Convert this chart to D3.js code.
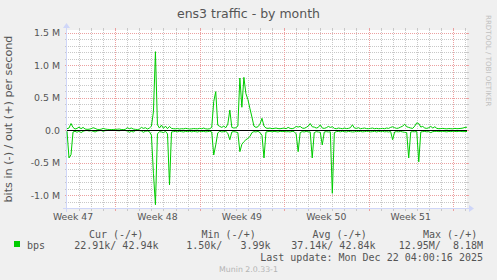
<!DOCTYPE html>
<html><head><meta charset="utf-8">
<script src="https://cdn.jsdelivr.net/npm/d3@7"></script>
<style>
body{margin:0;background:#f0f0f0}
svg{display:block}
text{white-space:pre}
</style>
</head><body>
<svg id="c" width="497" height="280"></svg>
<script>
// ---- data (kbit/s, one sample every 4 hours from Nov 19 2025 00:00) ----
const startTime = new Date(2025, 10, 19, 0, 0, 0);
const stepHours = 4;
const outK = [
 20,30,100,40,15,25,45,20,40,15, 10,12,20,35,25,10,8,12,25,15,
 10,8,6,8,10,12,15,8,6,10, 35,20,30,15,10,8,12,40,25,35,
 15,30,60,280,1205,80,30,75,25,60, 20,55,25,20,18,22,15,20,18,25,
 20,15,18,22,20,18,25,20,30,18, 15,20,40,437,590,75,55,40,60,35,
 90,307,40,30,35,60,800,350,810,560, 470,330,200,60,40,50,90,180,60,30,
 25,30,20,25,30,22,20,25,30,20, 40,25,20,30,55,45,55,30,25,40,
 60,100,50,45,30,40,80,30,25,35, 55,40,50,25,20,30,25,20,30,22,
 25,35,80,30,25,35,20,25,30,22, 20,25,30,20,25,20,22,25,20,30,
 25,40,50,35,25,30,45,60,90,50, 40,30,25,60,110,100,45,55,30,25,
 35,55,30,50,25,20,22,25,20,18, 22,20,18,25,20,22,25,30,40,43
];
const inK = [
 20,430,380,30,20,35,15,40,20,10, 8,15,10,20,30,15,10,8,20,10,
 8,6,5,6,8,10,12,6,5,8, 15,35,20,30,10,8,10,15,35,20,
 15,25,80,666,1150,60,25,30,40,20, 60,846,30,25,22,28,20,25,30,22,
 25,20,28,22,25,30,20,25,22,28, 25,20,30,385,230,45,20,30,25,20,
 50,150,30,25,30,40,333,220,180,150, 130,100,40,25,30,20,40,80,430,30,
 25,20,28,22,25,30,20,25,22,28, 25,30,22,25,60,333,40,25,30,22,
 28,30,430,40,25,30,35,230,30,25, 30,28,974,40,25,22,28,20,25,30,
 22,25,30,28,20,25,22,28,25,20, 22,28,25,20,30,22,25,20,28,25,
 30,22,150,30,25,28,22,30,35,40, 430,30,25,28,22,490,30,25,22,28,
 25,40,25,22,20,25,22,20,25,28, 22,25,20,22,25,20,22,25,24,23
];
const yMajorTicks = [-1.0e6, -0.5e6, 0, 0.5e6, 1.0e6, 1.5e6];
const yTickLabels = ["-1.0 M", "-0.5 M", "0.0", "0.5 M", "1.0 M", "1.5 M"];
const weekLabels = ["Week 47", "Week 48", "Week 49", "Week 50", "Week 51"];
const legendHeaders = ["Cur (-/+)", "Min (-/+)", "Avg (-/+)", "Max (-/+)"];
const legendValues = ["22.91k/ 42.94k", "1.50k/   3.99k", "37.14k/ 42.84k", "12.95M/  8.18M"];
const titleText = "ens3 traffic - by month";
const yAxisTitle = "bits in (-) / out (+) per second";
const seriesName = "bps";
const lastUpdate = "Last update: Mon Dec 22 04:00:16 2025";
const watermark = "Munin 2.0.33-1";
const sideText = "RRDTOOL / TOBI OETIKER";

// ---- layout ----
const X0 = 67, X1 = 467, Y0 = 208, Y1 = 30;
const GREEN = "#00cc00", FONT = "#555555", AXIS = "#cfd6f8";
const GRID = "#c8c8c8", MGRID = "#eca0a0";

const svg = d3.select("#c");
svg.append("rect").attr("width", 497).attr("height", 280).attr("fill", "#f0f0f0");

// dotted patterns (1px on / 1px off)
const defs = svg.append("defs");
[["vG", GRID, 1, 2], ["vR", MGRID, 1, 2], ["hG", GRID, 2, 1], ["hR", MGRID, 2, 1]].forEach(([id, col, w, h]) => {
  defs.append("pattern").attr("id", id).attr("patternUnits", "userSpaceOnUse")
    .attr("width", w).attr("height", h)
    .append("rect").attr("width", 1).attr("height", 1).attr("fill", col);
});

const times = outK.map((d, i) => new Date(startTime.getTime() + i * stepHours * 3600e3));
const endTime = times[times.length - 1];

const x = d3.scaleTime().domain([startTime, endTime]).range([X0, X1]);
const y = d3.scaleLinear().domain([-1.2e6, 1.5385e6]).range([Y0, Y1]);

svg.append("rect").attr("x", X0).attr("y", Y1).attr("width", X1 - X0).attr("height", Y0 - Y1).attr("fill", "#ffffff");

const g = svg.append("g").attr("shape-rendering", "crispEdges");

// horizontal grid
const hMinor = d3.range(-12, 16).filter(k => k % 5 !== 0).map(k => k * 1e5);
function hLine(v, col, pat) {
  const r = Math.round(y(v));
  g.append("rect").attr("x", X0).attr("y", r).attr("width", X1 - X0).attr("height", 1).attr("fill", `url(#${pat})`);
  g.append("rect").attr("x", X0 - 2).attr("y", r).attr("width", 2).attr("height", 1).attr("fill", col);
  g.append("rect").attr("x", X1).attr("y", r).attr("width", 2).attr("height", 1).attr("fill", col);
}
hMinor.forEach(v => hLine(v, GRID, "hG"));
yMajorTicks.forEach(v => hLine(v, MGRID, "hR"));

// vertical grid (days, weeks start Sunday)
const days = d3.timeDay.range(d3.timeDay.offset(startTime, 1), endTime);
function vLine(t, col, pat) {
  const c = Math.round(x(t));
  g.append("rect").attr("x", c).attr("y", Y1).attr("width", 1).attr("height", Y0 - Y1).attr("fill", `url(#${pat})`);
  g.append("rect").attr("x", c).attr("y", Y0).attr("width", 1).attr("height", 3).attr("fill", col);
  g.append("rect").attr("x", c).attr("y", Y1 - 2).attr("width", 1).attr("height", 2).attr("fill", col);
}
days.filter(d => d.getDay() !== 0).forEach(d => vLine(d, GRID, "vG"));
days.filter(d => d.getDay() === 0).forEach(d => vLine(d, MGRID, "vR"));

// axes
g.append("rect").attr("x", X0 - 4).attr("y", Y0).attr("width", X1 - X0 + 8).attr("height", 1).attr("fill", AXIS);
g.append("rect").attr("x", X0 - 1).attr("y", Y1 - 4).attr("width", 1).attr("height", Y0 - Y1 + 8).attr("fill", AXIS);
svg.append("path").attr("d", `M${X1 + 2},${Y0 - 3}L${X1 + 2},${Y0 + 4}L${X1 + 7},${Y0 + 0.5}Z`).attr("fill", AXIS);
svg.append("path").attr("d", `M${X0 - 4},${Y1 - 2}L${X0 + 3},${Y1 - 2}L${X0 - 0.5},${Y1 - 7}Z`).attr("fill", AXIS);

// data lines
const line = d3.line().x((d, i) => x(times[i])).y(d => y(d));
svg.append("path").datum(outK.map(v => v * 1000)).attr("d", line)
  .attr("fill", "none").attr("stroke", GREEN).attr("stroke-width", 1);
svg.append("path").datum(inK.map(v => -v * 1000)).attr("d", line)
  .attr("fill", "none").attr("stroke", GREEN).attr("stroke-width", 1);

// zero rule
svg.append("rect").attr("x", X0).attr("y", Math.round(y(0))).attr("width", X1 - X0).attr("height", 1)
  .attr("fill", "#000").attr("shape-rendering", "crispEdges");

// text
const T = svg.append("g").attr("fill", FONT).attr("font-family", "DejaVu Sans");
T.append("text").attr("x", 248.5).attr("y", 18).attr("text-anchor", "middle")
  .attr("font-size", 12.5).text(titleText);
T.append("text").attr("transform", "translate(12,119) rotate(-90)").attr("text-anchor", "middle")
  .attr("font-size", 11.2).text(yAxisTitle);
yMajorTicks.forEach((v, i) => {
  T.append("text").attr("x", 60).attr("y", y(v) + 3.5).attr("text-anchor", "end")
    .attr("font-size", 9.4).text(yTickLabels[i]);
});
const weekStarts = d3.timeWeek.range(d3.timeWeek.floor(startTime), endTime);
weekStarts.map(w => new Date(w.getTime() + 3.5 * 86400e3)).filter(t => t <= endTime)
  .forEach((t, i) => {
    T.append("text").attr("x", x(t)).attr("y", 220).attr("text-anchor", "middle")
      .attr("font-size", 9.3).text(weekLabels[i]);
  });

// legend
svg.append("rect").attr("x", 14).attr("y", 241).attr("width", 6).attr("height", 6).attr("fill", GREEN);
const L = svg.append("g").attr("fill", FONT).attr("font-family", "DejaVu Sans Mono").attr("font-size", 10);
L.append("text").attr("x", 27).attr("y", 249).text(seriesName);
const hdrX = [89, 201.5, 312.5, 423];
const valEnd = [158.5, 270.5, 375.5, 483];
legendHeaders.forEach((h, i) => L.append("text").attr("x", hdrX[i]).attr("y", 237.5).text(h));
legendValues.forEach((v, i) => L.append("text").attr("x", valEnd[i]).attr("y", 249).attr("text-anchor", "end").text(v));
L.append("text").attr("x", 483).attr("y", 261).attr("text-anchor", "end").text(lastUpdate);

svg.append("text").attr("x", 248.5).attr("y", 272).attr("text-anchor", "middle")
  .attr("font-family", "DejaVu Sans").attr("font-size", 7.8).attr("fill", "#b4b4b4").text(watermark);
svg.append("text").attr("transform", "translate(486,15) rotate(90)")
  .attr("font-family", "DejaVu Sans").attr("font-size", 7.1).attr("fill", "#c0c0c0").text(sideText);
</script>
</body></html>
